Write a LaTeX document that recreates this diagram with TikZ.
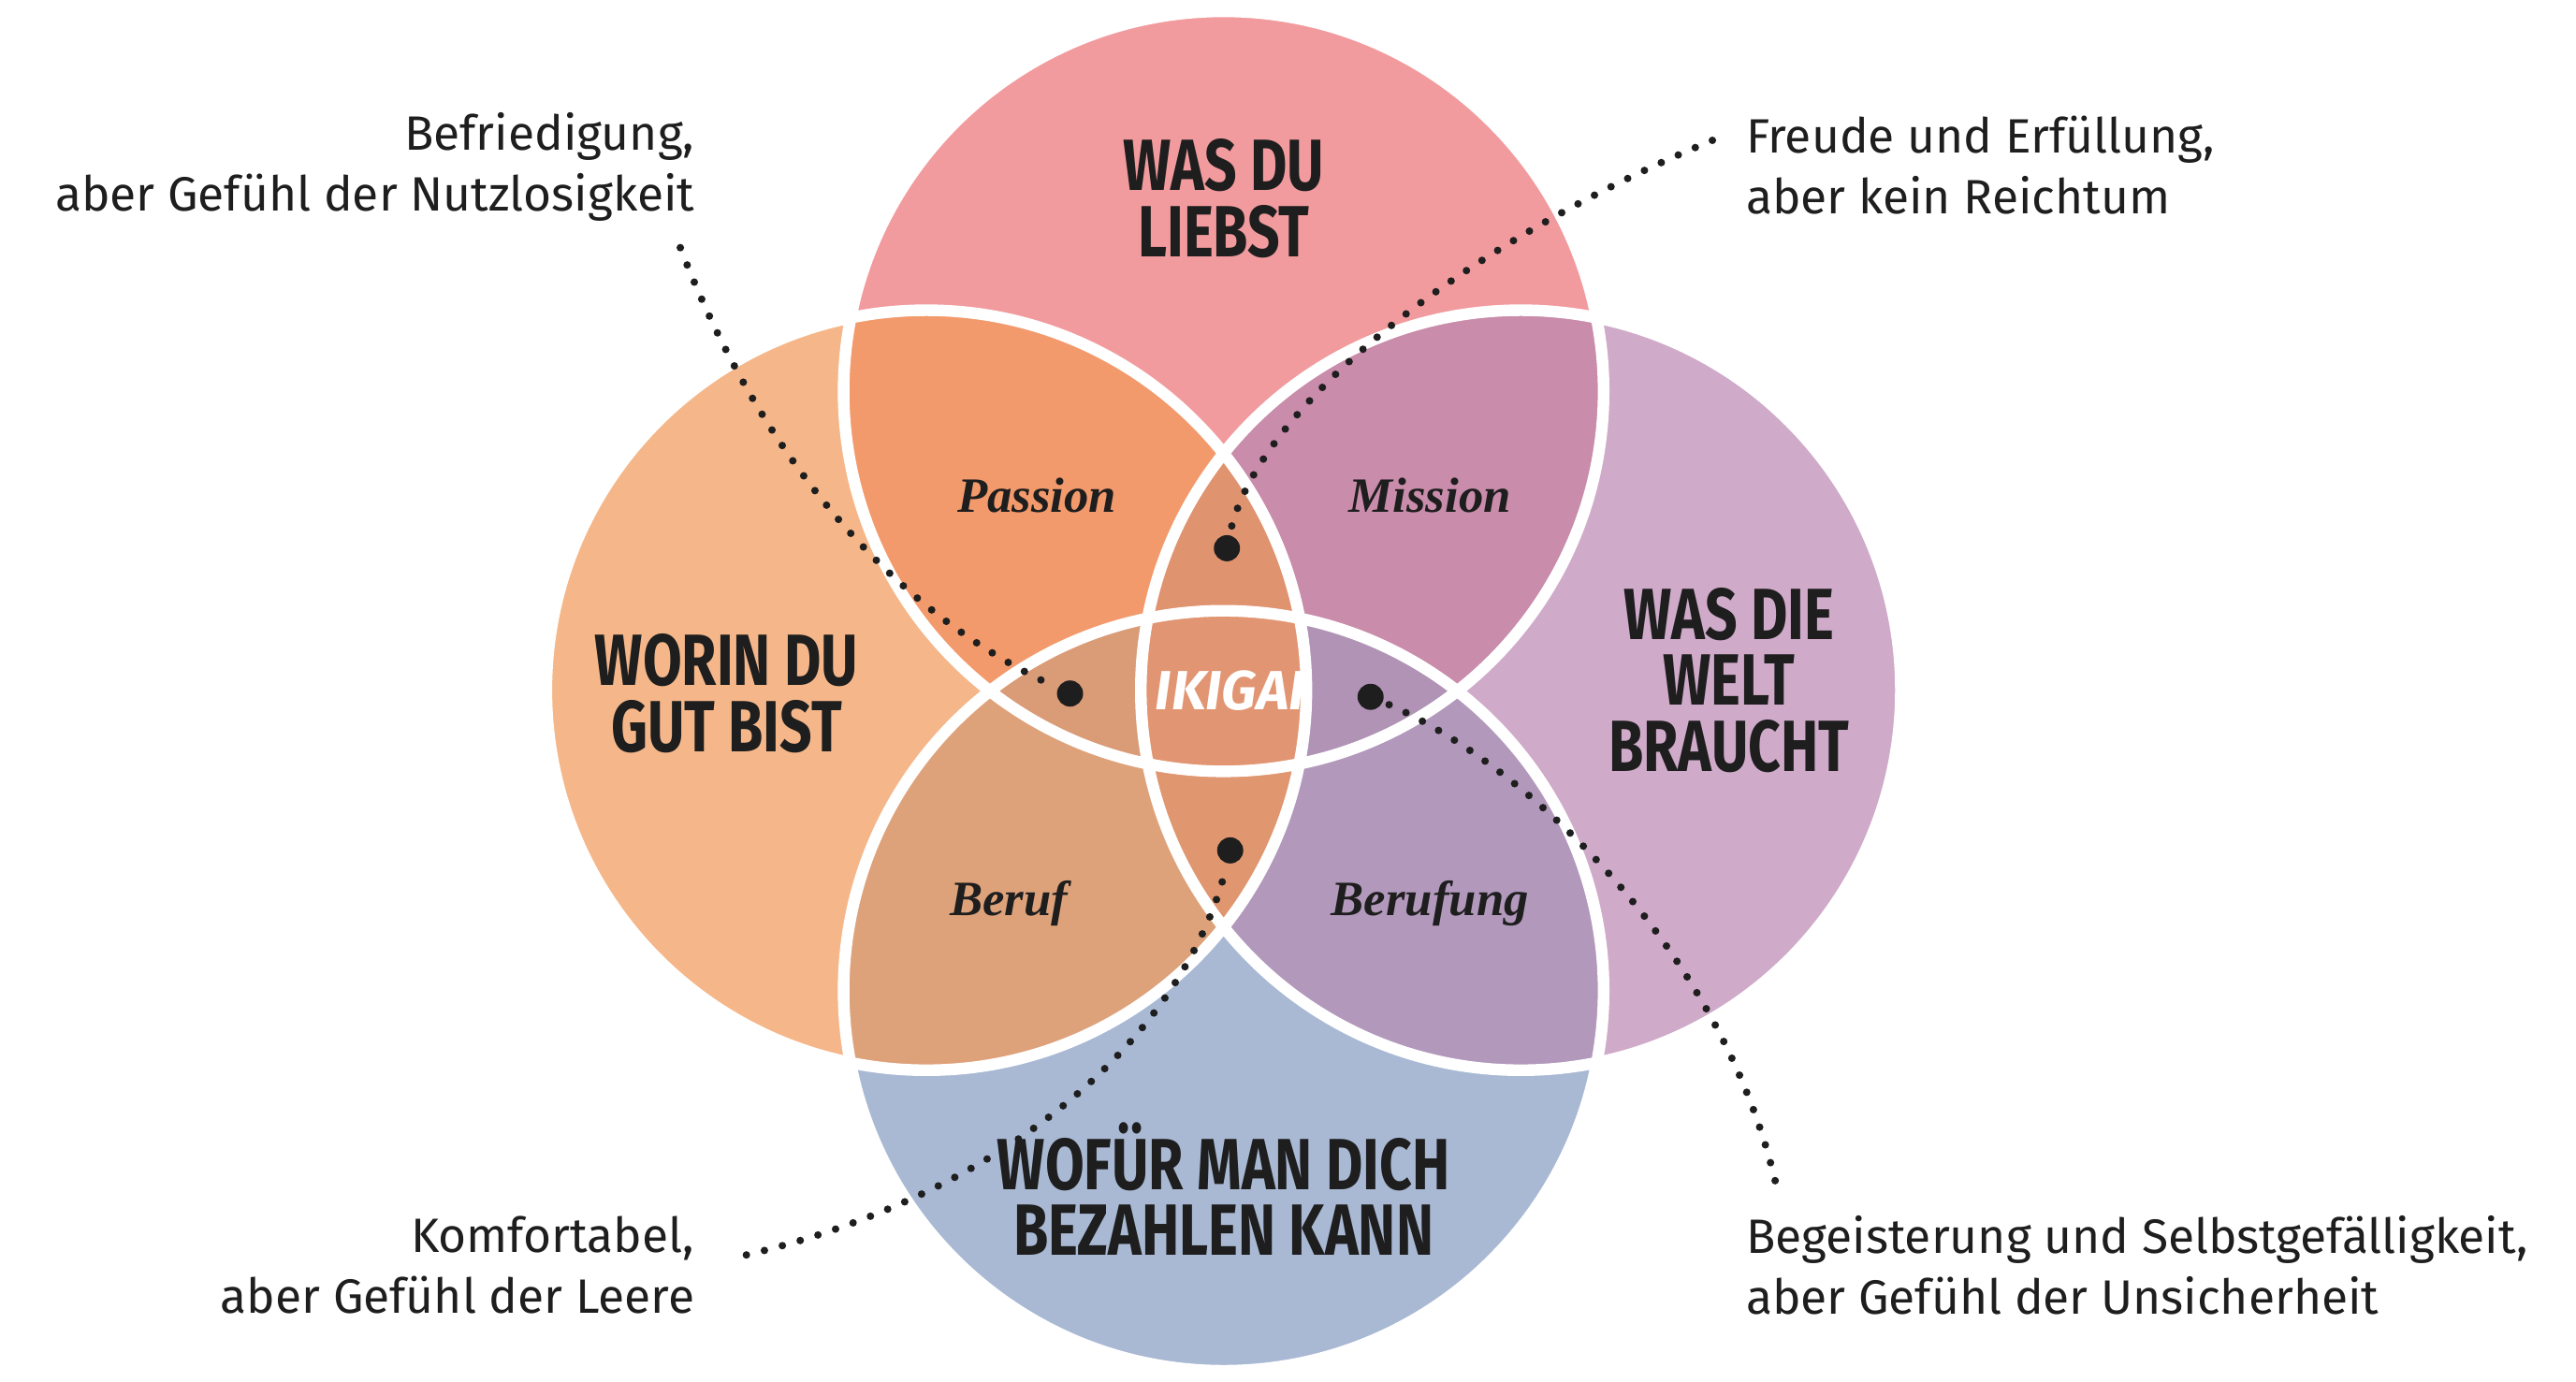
\documentclass[tikz,border=0pt]{standalone}
\usepackage{fontspec}
\setmainfont{Fira Sans}
\newfontfamily\titlefont[FakeStretch=0.78]{Fira Sans}
\newfontfamily\labelfont{Liberation Serif}
\definecolor{cTop}{HTML}{F29B9E}
\definecolor{cLeft}{HTML}{F5B78A}
\definecolor{cRight}{HTML}{CFAAC9}
\definecolor{cBot}{HTML}{A9B9D4}
\definecolor{cTL}{HTML}{F39A6C}
\definecolor{cTR}{HTML}{C98CAB}
\definecolor{cBL}{HTML}{DEA27B}
\definecolor{cBR}{HTML}{B299BC}
\definecolor{cTLR}{HTML}{E0936F}
\definecolor{cBLR}{HTML}{E0966F}
\definecolor{cLTB}{HTML}{DA9B77}
\definecolor{cRTB}{HTML}{B093B5}
\definecolor{cAll}{HTML}{E29572}
\definecolor{ink}{HTML}{1E1E1E}
\begin{document}
\begin{tikzpicture}[x=0.01cm,y=-0.01cm]
        \tikzset{
            title/.style = {font = \titlefont\bfseries\fontsize{12.5}{11.4}\selectfont, text = ink, align = center},
            region/.style = {font = \labelfont\bfseries\itshape\fontsize{8.5}{10}\selectfont, text = ink},
            note/.style = {font = \fontsize{8.3}{10.5}\selectfont, text = ink},
            leader/.style = {line width = 1.3pt, line cap = round, dash pattern = on 0pt off 3.2pt, draw = ink},
            endpoint/.style = {circle, fill = ink, inner sep = 0pt, minimum size = 4.5pt}
        }
        \useasboundingbox (0, 0) rectangle (1560, 836.5);
        \def\T{(741, 237) circle [radius = 2.3cm]}
        \def\B{(741, 600) circle [radius = 2.3cm]}
        \def\L{(561, 418) circle [radius = 2.3cm]}
        \def\R{(921, 418) circle [radius = 2.3cm]}

        % Circles
        \fill [cTop] \T;
        \fill [cBot] \B;
        \fill [cLeft] \L;
        \fill [cRight] \R;

        % Overlaps
        \begin{scope} \clip \T; \fill [cTL] \L; \fill [cTR] \R; \end{scope}
        \begin{scope} \clip \B; \fill [cBL] \L; \fill [cBR] \R; \end{scope}
        \begin{scope} \clip \L; \clip \R; \fill [cTLR] \T; \fill [cBLR] \B; \end{scope}
        \begin{scope} \clip \T; \clip \B; \fill [cLTB] \L; \fill [cRTB] \R; \end{scope}
        \begin{scope} \clip \T; \clip \B; \clip \L; \fill [cAll] \R; \end{scope}

        % Outlines
        \draw [white, line width = 2pt] \T \B \L \R;

        % Titles
        \node [title] (top) at (741, 120) {WAS DU\\LIEBST};
        \node [title] (left) at (440, 420) {WORIN DU\\GUT BIST};
        \node [title] (right) at (1047, 412) {WAS DIE\\WELT\\BRAUCHT};
        \node [title] (bottom) at (741, 720) {WOFÜR MAN DICH\\BEZAHLEN KANN};

        % Regions
        \node [region] (passion) at (628, 300) {Passion};
        \node [region] (mission) at (866, 300) {Mission};
        \node [region] (beruf) at (611, 547) {Beruf};
        \node [region] (berufung) at (866, 547) {Berufung};
        \node [font = \bfseries\itshape\fontsize{9.5}{11}\selectfont, text = white] (ikigai) at (745, 418) {IKIGAI};

        % Notes
        \node [note, align = right, anchor = east] (n1) at (433, 101) {Befriedigung,\\aber Gefühl der Nutzlosigkeit};
        \node [note, align = left, anchor = west] (n2) at (1045, 100) {Freude und Erfüllung,\\aber kein Reichtum};
        \node [note, align = right, anchor = east] (n3) at (433, 766) {Komfortabel,\\aber Gefühl der Leere};
        \node [note, align = left, anchor = west] (n4) at (1045, 766) {Begeisterung und Selbstgefälligkeit,\\aber Gefühl der Unsicherheit};

        % Leaders
        \node [endpoint] (d1) at (648, 420) {};
        \node [endpoint] (d2) at (743, 332) {};
        \node [endpoint] (d3) at (745, 515) {};
        \node [endpoint] (d4) at (830, 422) {};
        \coordinate (s1) at (412, 150);
        \coordinate (s2) at (1037, 85);
        \coordinate (s3) at (452, 760);
        \coordinate (s4) at (1075, 715);
        \draw [leader] (s1) .. controls (470, 300) and (560, 380) .. (d1);
        \draw [leader] (s2) .. controls (880, 150) and (760, 250) .. (d2);
        \draw [leader] (s3) .. controls (620, 720) and (720, 620) .. (d3);
        \draw [leader] (s4) .. controls (1040, 570) and (920, 460) .. (d4);
    \end{tikzpicture}
\end{document}
